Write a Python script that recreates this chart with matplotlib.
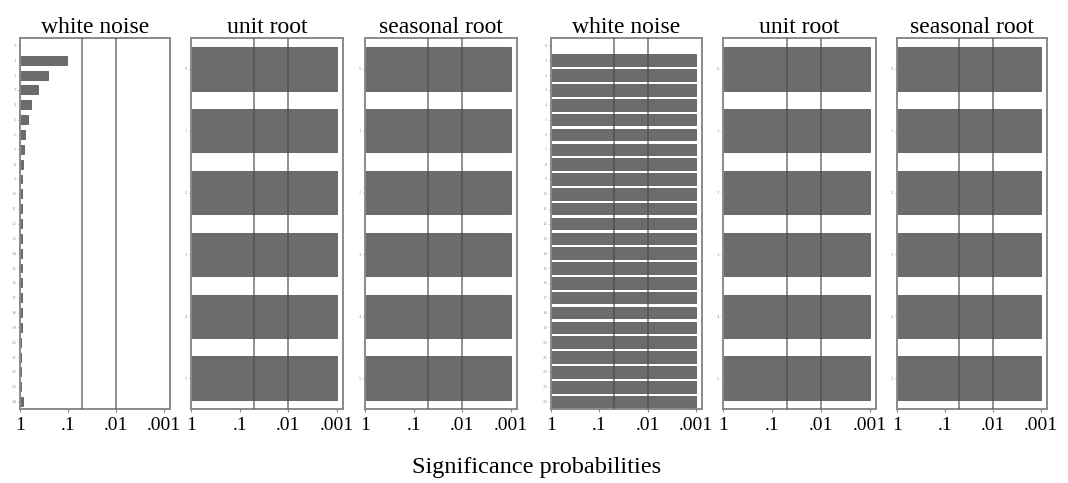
import numpy as np
import matplotlib
matplotlib.use("Agg")
import matplotlib.pyplot as plt

plt.rcParams['font.family'] = ['Liberation Serif', 'DejaVu Serif']

# significance probabilities
titles = ["white noise", "unit root", "seasonal root",
          "white noise", "unit root", "seasonal root"]
lags_wn = list(range(25))
lags_root = list(range(6))

p_wn_a = [1.0, 0.105, 0.26, 0.42, 0.59, 0.68, 0.79, 0.83, 0.87, 0.90,
          0.90, 0.91, 0.92, 0.90, 0.89, 0.92, 0.91, 0.90, 0.92, 0.93,
          0.94, 0.95, 0.95, 0.94, 0.87]
p_unit_a = [0.001, 0.001, 0.001, 0.001, 0.001, 0.001]
p_seas_a = [0.001, 0.001, 0.001, 0.001, 0.001, 0.001]
p_wn_b = [1.0] + [0.001] * 24
p_unit_b = [0.001, 0.001, 0.001, 0.001, 0.001, 0.001]
p_seas_b = [0.001, 0.001, 0.001, 0.001, 0.001, 0.001]

xticks = [1, 0.1, 0.01, 0.001]
xticklabels = ["1", ".1", ".01", ".001"]
sig_levels = [0.05, 0.01]

panels = [(lags_wn, p_wn_a, 0.6), (lags_root, p_unit_a, 0.7), (lags_root, p_seas_a, 0.7),
          (lags_wn, p_wn_b, 0.78), (lags_root, p_unit_b, 0.7), (lags_root, p_seas_b, 0.7)]

W, H = 1068, 483
fig = plt.figure(figsize=(W / 100, H / 100), dpi=100)
edges = [(20, 170), (191, 343), (365, 517), (551, 702), (723, 876), (897, 1047)]
top_px, bot_px = 38, 409

for (x0, x1), title, (lags, p, h) in zip(edges, titles, panels):
    ax = fig.add_axes([x0 / W, 1 - bot_px / H, (x1 - x0) / W, (bot_px - top_px) / H])
    ax.set_xscale("log")
    p = np.array(p)
    ax.barh(lags, 1 - p, left=p, height=h, color="#6c6c6c",
            edgecolor="#4a4a4a", linewidth=0.5, zorder=2)
    for s in sig_levels:
        ax.axvline(s, color="#474747", lw=1.3, alpha=0.65, zorder=3)
    ax.set_xlim(1, 0.00075)
    ax.set_ylim(len(lags) - 0.5, -0.5)
    ax.set_xticks(xticks)
    ax.set_xticklabels(xticklabels, fontsize=14)
    ax.minorticks_off()
    ax.tick_params(axis="x", length=2, width=0.8, color="#888888", pad=4)
    ax.set_yticks(lags)
    ax.set_yticklabels([str(l) for l in lags], fontsize=3.5, color="#9a9a9a")
    ax.tick_params(axis="y", length=1.5, width=0.6, color="#999999", pad=1)
    for sp in ax.spines.values():
        sp.set_color("#8a8a8a")
        sp.set_linewidth(1.4)
    ax.set_title(title, fontsize=17, pad=3)

fig.text(537 / W, 1 - 467 / H, "Significance probabilities", fontsize=17.5,
         ha="center", va="center")

fig.savefig("out.png", dpi=100, facecolor="white")
